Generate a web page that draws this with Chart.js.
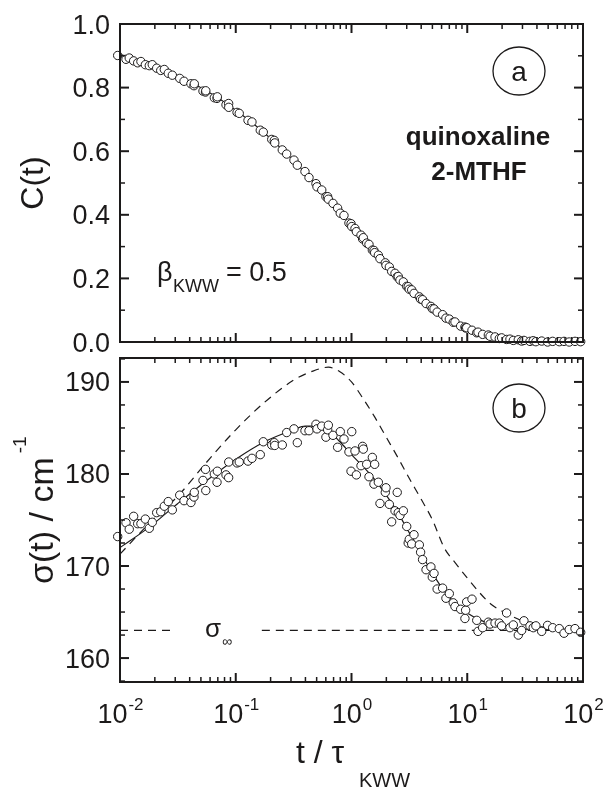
<!DOCTYPE html>
<html lang="en">
<head>
<meta charset="UTF-8">
<title>Solvation dynamics: C(t) and sigma(t)</title>
<script src="https://cdn.jsdelivr.net/npm/chart.js"></script>
<style>
    body { margin: 0; background: #fff; }
    #wrap { position: relative; width: 603px; height: 792px; }
    canvas { position: absolute; left: 0; }
</style>
</head>
<body>
<div id="wrap">
    <canvas id="corrChart" width="603" height="352" style="top:0"></canvas>
    <canvas id="sigmaChart" width="603" height="440" style="top:352px"></canvas>
</div>
<script>
// measured times t / tau_KWW (same grid for both panels)
const tTau = [0.00955, 0.01127, 0.01202, 0.01312, 0.01422, 0.01517, 0.01656, 0.01791, 0.01901, 0.02075,
    0.02249, 0.02415, 0.02612, 0.02831, 0.03281, 0.03573, 0.04102, 0.04355, 0.04385, 0.05212,
    0.0548, 0.0551, 0.06531, 0.06887, 0.06934, 0.08241, 0.0868, 0.0870, 0.1026, 0.1072,
    0.1276, 0.1380, 0.1629, 0.1730, 0.2046, 0.2153, 0.2173, 0.2523, 0.2754, 0.3184,
    0.3404, 0.3963, 0.4295, 0.4932, 0.5035, 0.5534, 0.6012, 0.6223, 0.6310, 0.6918,
    0.7586, 0.7998, 0.8610, 0.9506, 0.9908, 1.005, 1.072, 1.102, 1.208, 1.247,
    1.265, 1.352, 1.416, 1.514, 1.563, 1.585, 1.706, 1.762, 1.959, 1.986,
    2.123, 2.223, 2.377, 2.483, 2.535, 2.624, 2.805, 2.999, 3.090, 3.155,
    3.311, 3.467, 3.855, 3.954, 4.111, 4.406, 4.853, 4.989, 5.164, 5.495,
    6.124, 6.546, 6.998, 7.568, 7.834, 8.770, 9.550, 9.683, 9.886, 10.99,
    12.08, 12.39, 13.58, 15.21, 15.74, 17.38, 18.92, 19.82, 21.88, 23.39,
    25.00, 27.61, 29.51, 30.90, 34.83, 37.15, 39.17, 43.95, 49.43, 54.70,
    62.37, 68.55, 76.03, 85.31, 95.50];

// panel a: C(t)
const corr = [0.901, 0.889, 0.893, 0.884, 0.878, 0.882, 0.872, 0.869, 0.872, 0.861,
    0.854, 0.857, 0.845, 0.839, 0.829, 0.820, 0.812, 0.806, 0.812, 0.789,
    0.786, 0.790, 0.768, 0.766, 0.771, 0.746, 0.750, 0.738, 0.722, 0.719,
    0.697, 0.692, 0.666, 0.660, 0.637, 0.634, 0.626, 0.604, 0.591, 0.572,
    0.556, 0.536, 0.517, 0.498, 0.488, 0.478, 0.457, 0.457, 0.449, 0.436,
    0.421, 0.405, 0.398, 0.374, 0.372, 0.363, 0.357, 0.347, 0.336, 0.324,
    0.328, 0.311, 0.307, 0.289, 0.288, 0.281, 0.273, 0.262, 0.249, 0.241,
    0.236, 0.222, 0.216, 0.205, 0.206, 0.195, 0.189, 0.175, 0.174, 0.166,
    0.164, 0.153, 0.142, 0.135, 0.133, 0.121, 0.112, 0.105, 0.104, 0.094,
    0.086, 0.075, 0.072, 0.062, 0.063, 0.050, 0.047, 0.044, 0.045, 0.037,
    0.029, 0.031, 0.024, 0.022, 0.018, 0.016, 0.011, 0.013, 0.008, 0.009,
    0.005, 0.007, 0.003, 0.005, 0.002, 0.004, 0.001, 0.003, 0.000, 0.002,
    0.001, 0.002, 0.000, 0.002, 0.001];

// panel b: sigma(t) in cm^-1
const sigma = [173.2, 174.7, 174.0, 175.4, 174.6, 174.6, 175.1, 174.1, 174.75, 175.8,
    175.9, 176.5, 177.0, 176.1, 177.7, 177.1, 176.9, 177.5, 178.0, 179.3,
    180.5, 178.2, 180.0, 179.1, 180.3, 179.9, 179.6, 181.3, 181.2, 181.3,
    181.4, 181.7, 182.1, 183.5, 183.15, 183.4, 183.1, 183.15, 184.5, 184.9,
    183.4, 184.7, 184.7, 185.4, 184.9, 185.2, 184.0, 184.8, 185.3, 184.2,
    182.9, 184.6, 183.8, 182.4, 180.3, 184.6, 182.5, 179.9, 180.9, 183.0,
    182.7, 181.05, 179.7, 181.8, 178.9, 181.05, 179.1, 176.8, 178.0, 178.5,
    176.7, 174.8, 176.0, 178.0, 175.8, 175.5, 176.0, 174.3, 172.5, 172.9,
    172.4, 173.4, 172.3, 171.5, 170.7, 169.6, 169.9, 168.8, 169.2, 167.5,
    167.6, 166.5, 167.0, 166.0, 165.6, 165.3, 164.3, 165.2, 166.1, 166.4,
    164.1, 162.9, 163.3, 163.9, 163.7, 163.8, 163.8, 163.5, 164.9, 163.3,
    163.6, 162.5, 163.0, 164.05, 163.5, 163.3, 163.5, 162.9, 163.55, 163.3,
    163.2, 162.7, 163.1, 163.2, 162.8];

// fit curves
const fitCT = [0.01, 0.01585, 0.02512, 0.03981, 0.0631, 0.1, 0.1585, 0.2512, 0.3981, 0.631,
    1, 1.585, 2.512, 3.981, 6.31, 10, 15.85, 25.12, 39.81, 63.1, 100];
const fitC = [0.905, 0.882, 0.853, 0.819, 0.778, 0.729, 0.672, 0.606, 0.532, 0.452,
    0.368, 0.284, 0.205, 0.136, 0.081, 0.042, 0.019, 0.0067, 0.0018, 0.0004, 0.0001];

const fitST = [0.01, 0.01778, 0.03162, 0.05623, 0.1, 0.1778, 0.3162, 0.3981, 0.5012, 0.631,
    0.7943, 1, 1.259, 1.585, 1.995, 2.512, 3.162, 3.981, 5.012, 6.31,
    7.943, 10, 12.59, 15.85, 19.95, 31.62, 56.23, 100];
const fitSigma = [172.0, 174.2, 176.8, 179.3, 181.6, 183.5, 184.8, 185.2, 185.2, 184.7,
    183.5, 182.1, 180.8, 179.4, 177.7, 175.8, 173.6, 171.4, 169.2, 167.3,
    165.9, 164.9, 164.2, 163.7, 163.4, 163.15, 163.05, 163.0];

const kwwT = [0.01, 0.01778, 0.03162, 0.05623, 0.1, 0.1778, 0.3162, 0.4467, 0.631, 0.7943,
    1, 1.259, 1.585, 1.995, 2.512, 3.162, 3.981, 5.012, 6.31, 7.943,
    10, 12.59, 15.85, 19.95, 25.12, 31.62, 39.81, 56.23, 100];
const kwwSigma = [171.3, 174.6, 177.6, 181.3, 184.8, 187.8, 190.2, 191.1, 191.6, 191.1,
    190.0, 188.2, 186.2, 184.0, 181.8, 179.5, 177.3, 175.0, 172.0, 170.3,
    168.7, 167.2, 165.9, 165.1, 164.45, 163.9, 163.5, 163.2, 163.05];

const sigmaInf = 163.0;
const sigmaInfLeft = [0.01, 0.0288];
const sigmaInfRight = [0.168, 100];

// axes
const xRange = [0.01, 100];
const xDecades = [0.01, 0.1, 1, 10, 100];
const xExp = ['-2', '-1', '0', '1', '2'];
const yTopRange = [0, 1];
const yTopTicks = [0, 0.2, 0.4, 0.6, 0.8, 1.0];
const yTopLabels = ['0.0', '0.2', '0.4', '0.6', '0.8', '1.0'];
const yTopMinor = [0.1, 0.3, 0.5, 0.7, 0.9];
const yBotRange = [157.4, 192.6];
const yBotTicks = [160, 170, 180, 190];
const yBotMinor = [157.5, 162.5, 165, 167.5, 172.5, 175, 177.5, 182.5, 185, 187.5, 192.5];

const INK = '#1c1a1a';
const FONT = '"Liberation Sans", Arial, Helvetica, sans-serif';

function pts(xs, ys) {
    return xs.map((x, i) => ({ x: x, y: ys[i] }));
}

function seg(ctx, x1, y1, x2, y2) {
    ctx.beginPath();
    ctx.moveTo(x1, y1);
    ctx.lineTo(x2, y2);
    ctx.stroke();
}

// frame with inward ticks on all four sides
function drawFrame(chart, yMajor, yMinor) {
    const { ctx, chartArea: a, scales: { x, y } } = chart;
    ctx.save();
    ctx.strokeStyle = INK;
    ctx.lineWidth = 2;
    ctx.strokeRect(a.left, a.top, a.right - a.left, a.bottom - a.top);
    const big = 9, small = 5;
    xDecades.forEach((d, k) => {
        const px = x.getPixelForValue(d);
        ctx.lineWidth = 2;
        seg(ctx, px, a.bottom, px, a.bottom - big);
        seg(ctx, px, a.top, px, a.top + big);
        if (k < xDecades.length - 1) {
            ctx.lineWidth = 1.5;
            for (let m = 2; m <= 9; m++) {
                const q = x.getPixelForValue(d * m);
                seg(ctx, q, a.bottom, q, a.bottom - small);
                seg(ctx, q, a.top, q, a.top + small);
            }
        }
    });
    ctx.lineWidth = 2;
    yMajor.forEach(v => {
        const py = y.getPixelForValue(v);
        seg(ctx, a.left, py, a.left + big, py);
        seg(ctx, a.right, py, a.right - big, py);
    });
    ctx.lineWidth = 1.5;
    yMinor.forEach(v => {
        if (v < y.min || v > y.max) return;
        const py = y.getPixelForValue(v);
        seg(ctx, a.left, py, a.left + small, py);
        seg(ctx, a.right, py, a.right - small, py);
    });
    ctx.restore();
}

function yLabels(chart, ticks, labels) {
    const { ctx, chartArea: a, scales: { y } } = chart;
    ctx.save();
    ctx.fillStyle = INK;
    ctx.font = '27px ' + FONT;
    ctx.textAlign = 'right';
    ctx.textBaseline = 'alphabetic';
    ticks.forEach((v, i) => {
        ctx.fillText(labels[i], a.left - 10, y.getPixelForValue(v) + 9.5);
    });
    ctx.restore();
}

function circled(ctx, letter, cx, cy) {
    ctx.save();
    ctx.strokeStyle = INK;
    ctx.lineWidth = 1.3;
    ctx.beginPath();
    ctx.ellipse(cx, cy, 26, 24, 0, 0, Math.PI * 2);
    ctx.stroke();
    ctx.fillStyle = INK;
    ctx.font = '28px ' + FONT;
    ctx.textAlign = 'center';
    ctx.textBaseline = 'alphabetic';
    ctx.fillText(letter, cx, cy + 10);
    ctx.restore();
}

const markerStyle = {
    showLine: false,
    pointRadius: 4.2,
    pointBorderWidth: 1,
    pointBorderColor: INK,
    pointBackgroundColor: '#ffffff',
    clip: 8
};

const lineStyle = {
    showLine: true,
    pointRadius: 0,
    borderColor: INK,
    borderWidth: 1.2,
    cubicInterpolationMode: 'monotone',
    fill: false
};

function baseOptions(padding, yr) {
    return {
        responsive: false,
        animation: false,
        events: [],
        layout: { padding: padding },
        plugins: { legend: { display: false }, tooltip: { enabled: false } },
        scales: {
            x: { type: 'logarithmic', min: xRange[0], max: xRange[1], display: false },
            y: { type: 'linear', min: yr[0], max: yr[1], display: false }
        }
    };
}

// panel a
new Chart(document.getElementById('corrChart'), {
    type: 'scatter',
    data: {
        datasets: [
            Object.assign({ data: pts(tTau, corr) }, markerStyle),
            Object.assign({ data: pts(fitCT, fitC) }, lineStyle)
        ]
    },
    options: baseOptions({ left: 120, right: 20, top: 24, bottom: 10 }, yTopRange),
    plugins: [{
        id: 'panelA',
        afterDraw(chart) {
            const ctx = chart.ctx;
            drawFrame(chart, yTopTicks, yTopMinor);
            yLabels(chart, yTopTicks, yTopLabels);
            ctx.save();
            ctx.fillStyle = INK;
            // axis title
            ctx.save();
            ctx.translate(34, 183);
            ctx.rotate(-Math.PI / 2);
            ctx.font = '32px ' + FONT;
            ctx.textAlign = 'center';
            ctx.textBaseline = 'middle';
            ctx.fillText('C(t)', 0, 0);
            ctx.restore();
            // sample names
            ctx.font = 'bold 26px ' + FONT;
            ctx.textAlign = 'center';
            ctx.fillText('quinoxaline', 478, 145);
            ctx.fillText('2-MTHF', 479, 180);
            // beta_KWW = 0.5
            ctx.textAlign = 'left';
            ctx.font = '27px ' + FONT;
            ctx.fillText('\u03b2', 157, 281);
            ctx.font = '18px ' + FONT;
            ctx.fillText('KWW', 173, 292);
            ctx.font = '27px ' + FONT;
            ctx.fillText('= 0.5', 226, 281);
            ctx.restore();
            circled(ctx, 'a', 519, 71);
        }
    }]
});

// panel b
new Chart(document.getElementById('sigmaChart'), {
    type: 'scatter',
    data: {
        datasets: [
            Object.assign({ data: pts(tTau, sigma) }, markerStyle),
            Object.assign({ data: pts(fitST, fitSigma) }, lineStyle),
            Object.assign({ data: pts(kwwT, kwwSigma) }, lineStyle, { borderDash: [8, 6] }),
            Object.assign({ data: pts(sigmaInfLeft, [sigmaInf, sigmaInf]) }, lineStyle, { borderDash: [8, 6], cubicInterpolationMode: 'default' }),
            Object.assign({ data: pts(sigmaInfRight, [sigmaInf, sigmaInf]) }, lineStyle, { borderDash: [8, 6], cubicInterpolationMode: 'default' })
        ]
    },
    options: baseOptions({ left: 120, right: 20, top: 6, bottom: 110 }, yBotRange),
    plugins: [{
        id: 'panelB',
        afterDraw(chart) {
            const { ctx, chartArea: a, scales: { x, y } } = chart;
            drawFrame(chart, yBotTicks, yBotMinor);
            yLabels(chart, yBotTicks, yBotTicks.map(String));
            ctx.save();
            ctx.fillStyle = INK;
            ctx.textBaseline = 'alphabetic';
            ctx.textAlign = 'left';
            // x tick labels 10^n
            xDecades.forEach((d, i) => {
                ctx.font = '27px ' + FONT;
                const w1 = ctx.measureText('10').width;
                ctx.font = '17px ' + FONT;
                const w2 = ctx.measureText(xExp[i]).width;
                const left = x.getPixelForValue(d) - (w1 + w2) / 2;
                ctx.font = '27px ' + FONT;
                ctx.fillText('10', left, a.bottom + 41);
                ctx.font = '17px ' + FONT;
                ctx.fillText(xExp[i], left + w1 + 1, a.bottom + 28);
            });
            // x title
            ctx.font = '32px ' + FONT;
            ctx.fillText('t / \u03c4', 296, 411);
            ctx.font = '20px ' + FONT;
            ctx.fillText('KWW', 359, 435);
            // sigma infinity label
            ctx.font = '26px ' + FONT;
            ctx.fillText('\u03c3', 205, y.getPixelForValue(sigmaInf) + 7);
            ctx.font = '14px ' + FONT;
            ctx.fillText('\u221e', 222, y.getPixelForValue(sigmaInf) + 16);
            // y title
            ctx.save();
            ctx.translate(53, 232);
            ctx.rotate(-Math.PI / 2);
            ctx.font = '34px ' + FONT;
            ctx.fillText('\u03c3(t) / cm', 0, 0);
            const w = ctx.measureText('\u03c3(t) / cm').width;
            ctx.font = '19px ' + FONT;
            ctx.fillText('-1', w + 4, -27);
            ctx.restore();
            ctx.restore();
            circled(ctx, 'b', 519, 56);
        }
    }]
});
</script>
</body>
</html>
